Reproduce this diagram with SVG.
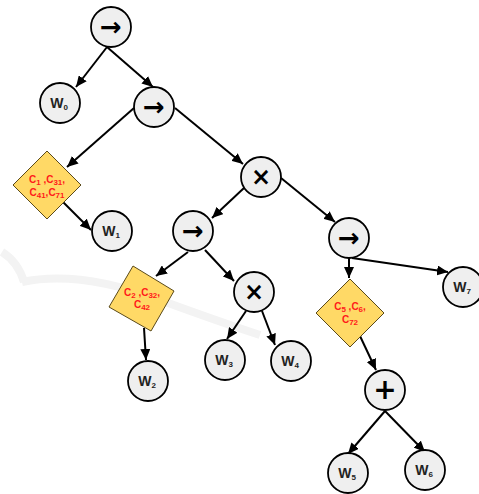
<svg xmlns="http://www.w3.org/2000/svg" width="479" height="494" viewBox="0 0 479 494">
<style>
.n{fill:#efefef;stroke:#000;stroke-width:1.8}
.d{fill:#ffd966;stroke:#5a4a1a;stroke-width:1}
.e{stroke:#000;stroke-width:2;fill:none;marker-end:url(#ah)}
.op{font-family:"DejaVu Sans",sans-serif;font-weight:bold;text-anchor:middle;fill:#000}
.w{font-family:"Liberation Sans",Arial,sans-serif;font-weight:bold;font-size:14px;text-anchor:middle;fill:#222}
.c{font-family:"Liberation Sans",Arial,sans-serif;font-weight:bold;font-size:10px;text-anchor:middle;fill:#ff1a1a}
.s{font-size:8px}
.wm{fill:none;stroke:#f3f3f3;stroke-width:8}
</style>
<defs>
<marker id="ah" markerUnits="userSpaceOnUse" markerWidth="12" markerHeight="10" refX="11" refY="5" orient="auto">
<path d="M0,0 L11,5 L0,10 Z" fill="#000"/>
</marker>
</defs>
<path class="wm" d="M2,252 Q18,262 24,282 M22,282 Q80,270 160,300 Q220,322 260,335"/>
<g id="connectors">
<line class="e" x1="107" y1="47" x2="76" y2="87"/>
<line class="e" x1="107" y1="47" x2="153" y2="87"/>
<line class="e" x1="134" y1="108" x2="67" y2="167"/>
<line class="e" x1="175" y1="108" x2="243" y2="164"/>
<line class="e" x1="63" y1="202" x2="91" y2="230"/>
<line class="e" x1="244" y1="188" x2="212" y2="218"/>
<line class="e" x1="281" y1="178" x2="335" y2="222"/>
<line class="e" x1="188" y1="252" x2="156" y2="276"/>
<line class="e" x1="205" y1="250" x2="234" y2="281"/>
<line class="e" x1="144" y1="328" x2="146" y2="360"/>
<line class="e" x1="246" y1="311" x2="227" y2="339"/>
<line class="e" x1="262" y1="311" x2="275" y2="345"/>
<line class="e" x1="349" y1="258" x2="349" y2="278"/>
<line class="e" x1="352" y1="258" x2="448" y2="272"/>
<line class="e" x1="360" y1="336" x2="376" y2="370"/>
<line class="e" x1="385" y1="411" x2="348" y2="454"/>
<line class="e" x1="385" y1="411" x2="425" y2="452"/>
</g>
<g id="op_root"><circle class="n" cx="111" cy="27" r="20"/><text class="op" x="111" y="36" font-size="26">→</text></g>
<g id="w0"><circle class="n" cx="60" cy="103" r="20"/><text class="w" x="59" y="108">W<tspan class="s" dy="2">0</tspan></text></g>
<g id="op_seq2"><circle class="n" cx="154" cy="107" r="20"/><text class="op" x="154" y="116" font-size="26">→</text></g>
<g id="c1"><polygon class="d" points="47,151 81,185 47,219 13,185"/><text class="c" x="47" y="183">C<tspan class="s" dy="2">1</tspan><tspan dy="-2"> ,C</tspan><tspan class="s" dy="2">31</tspan><tspan dy="-2">,</tspan></text><text class="c" x="47" y="196">C<tspan class="s" dy="2">41</tspan><tspan dy="-2">,C</tspan><tspan class="s" dy="2">71</tspan></text></g>
<g id="w1"><circle class="n" cx="112" cy="231" r="20"/><text class="w" x="111" y="236">W<tspan class="s" dy="2">1</tspan></text></g>
<g id="op_mul1"><circle class="n" cx="261" cy="177" r="20"/><text class="op" x="261" y="185" font-size="24">×</text></g>
<g id="op_seq3"><circle class="n" cx="193" cy="231" r="20"/><text class="op" x="193" y="240" font-size="26">→</text></g>
<g id="op_seq4"><circle class="n" cx="349" cy="238" r="20"/><text class="op" x="349" y="247" font-size="26">→</text></g>
<g id="c2"><polygon class="d" points="133,266 174,291 151,331 109,307"/><text class="c" x="142" y="296">C<tspan class="s" dy="2">2</tspan><tspan dy="-2"> ,C</tspan><tspan class="s" dy="2">32</tspan><tspan dy="-2">,</tspan></text><text class="c" x="142" y="308">C<tspan class="s" dy="2">42</tspan></text></g>
<g id="op_mul2"><circle class="n" cx="254" cy="292" r="20"/><text class="op" x="254" y="300" font-size="24">×</text></g>
<g id="w2"><circle class="n" cx="148" cy="381" r="20"/><text class="w" x="147" y="386">W<tspan class="s" dy="2">2</tspan></text></g>
<g id="w3"><circle class="n" cx="225" cy="360" r="20"/><text class="w" x="224" y="365">W<tspan class="s" dy="2">3</tspan></text></g>
<g id="w4"><circle class="n" cx="291" cy="361" r="20"/><text class="w" x="290" y="366">W<tspan class="s" dy="2">4</tspan></text></g>
<g id="c3"><polygon class="d" points="350,279 384,313 350,347 316,313"/><text class="c" x="350" y="310">C<tspan class="s" dy="2">5</tspan><tspan dy="-2"> ,C</tspan><tspan class="s" dy="2">6</tspan><tspan dy="-2">,</tspan></text><text class="c" x="350" y="323">C<tspan class="s" dy="2">72</tspan></text></g>
<g id="w7"><circle class="n" cx="463" cy="287" r="20"/><text class="w" x="462" y="292">W<tspan class="s" dy="2">7</tspan></text></g>
<g id="op_plus"><circle class="n" cx="385" cy="390" r="20"/><text class="op" x="385" y="399" font-size="28">+</text></g>
<g id="w5"><circle class="n" cx="348" cy="473" r="20"/><text class="w" x="347" y="478">W<tspan class="s" dy="2">5</tspan></text></g>
<g id="w6"><circle class="n" cx="425" cy="470" r="20"/><text class="w" x="424" y="475">W<tspan class="s" dy="2">6</tspan></text></g>
</svg>
